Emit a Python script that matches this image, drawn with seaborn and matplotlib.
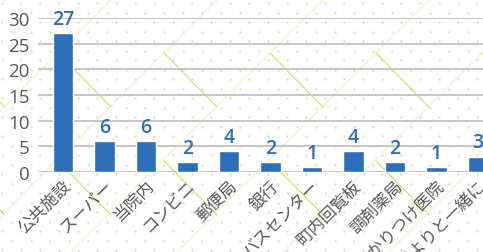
import matplotlib
matplotlib.use("Agg")
import matplotlib.pyplot as plt
import seaborn as sns
import numpy as np

categories = ['公共施設', 'スーパー', '当院内', 'コンビニ', '郵便局', '銀行',
              'バスセンター', '町内回覧板', '調剤薬局', 'かかりつけ医院', '病院だよりと一緒に']
values = [27, 6, 6, 2, 4, 2, 1, 4, 2, 1, 3]
yticks = [0, 5, 10, 15, 20, 25, 30]

sns.set_theme(style="white")
plt.rcParams['font.family'] = ['Open Sans', 'Noto Sans CJK JP', 'DejaVu Sans']

W, H = 483, 253
fig = plt.figure(figsize=(W / 100, H / 100), dpi=100)
fig.patch.set_facecolor('white')

# decorative background pattern (dots + diagonal lines)
bg = fig.add_axes([0, 0, 1, 1], zorder=-5)
bg.set_xlim(0, W)
bg.set_ylim(H, 0)
bg.axis('off')
xs, ys = [], []
for r, yy in enumerate(np.arange(4, H + 10, 9.5)):
    off = 0 if r % 2 == 0 else 9.5
    for xx in np.arange(2 + off, W + 10, 19):
        xs.append(xx)
        ys.append(yy)
bg.scatter(xs, ys, s=3.2, color='#dfe1cc', linewidths=0)
for k in range(-2, 9):
    c = 6 + 106 * k
    bg.plot([c - 300, c + 300], [300, -300], color='#eef4cc', lw=0.9)
for k in range(-1, 5):
    for m in range(0, 3):
        x0 = 58 + 106 * k
        y0 = 54 + 108 * m
        bg.plot([x0, x0 + 53], [y0, y0 + 54], color='#cde260', lw=0.8)

# main axes
px_per_unit = 41.5
xl = (-0.6, 10.6)
left = 38
bottom_px = 173
top_px = 19
ax = fig.add_axes([left / W, (H - bottom_px) / H,
                   (xl[1] - xl[0]) * px_per_unit / W, (bottom_px - top_px) / H])
ax.set_facecolor('none')

blue = '#2e6fb9'
sns.barplot(x=categories, y=values, color=blue, saturation=1, width=0.49, ax=ax, zorder=3)
ax.set_xlim(*xl)
ax.set_ylim(0, 30)
ax.set_yticks(yticks)
ax.set_yticklabels([str(t) for t in yticks])
ax.yaxis.grid(True, color='#c8c8c8', lw=1.5, zorder=0)
ax.xaxis.grid(False)
for s in ax.spines.values():
    s.set_visible(False)
ax.tick_params(axis='y', length=0, pad=6, labelsize=13.5, labelcolor='#595959')
ax.tick_params(axis='x', length=0, pad=4, labelsize=12, labelcolor='#595959')
ax.set_xlabel('')
ax.set_ylabel('')
for lab in ax.get_xticklabels():
    lab.set_rotation(45)
    lab.set_ha('right')
    lab.set_va('top')
    lab.set_rotation_mode('anchor')
for c in ax.containers:
    ax.bar_label(c, labels=[str(v) for v in values], padding=3, fontsize=14,
                 fontweight='semibold', color=blue)

fig.savefig('out.png', dpi=100)
